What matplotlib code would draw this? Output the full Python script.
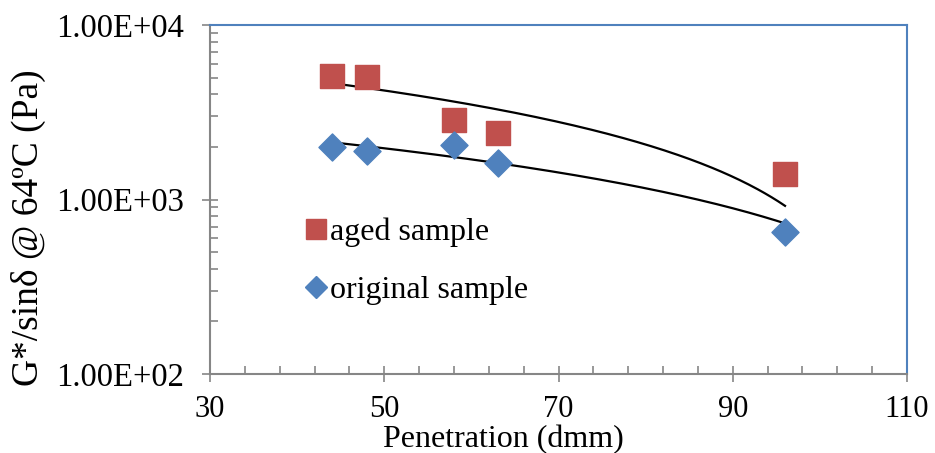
import numpy as np
import matplotlib.pyplot as plt
from matplotlib.ticker import FixedLocator, LogLocator, NullFormatter

plt.rcParams['font.family'] = ['Liberation Serif', 'DejaVu Serif']

# penetration (dmm) and G*/sin(delta) at 64 C (Pa)
penetration = [44, 48, 58, 63, 96]
aged = [5120, 5060, 2860, 2410, 1395]
original = [2010, 1905, 2050, 1625, 655]

fig = plt.figure(figsize=(9.35, 4.53), dpi=100)
ax = fig.add_axes([210 / 935, 1 - 374 / 453, 697 / 935, 349 / 453])

ax.scatter(penetration, aged, marker='s', s=300, color='#c0504d', zorder=3)
ax.scatter(penetration, original, marker='D', s=190, color='#4f81bd', zorder=3)

# linear trendlines (shown on log axis)
xs = np.linspace(min(penetration), max(penetration), 200)
for ys in (aged, original):
    b, a = np.polyfit(penetration, ys, 1)
    ax.plot(xs, a + b * xs, color='black', lw=1.6, zorder=2)

ax.set_yscale('log')
ax.set_xlim(30, 110)
ax.set_ylim(100, 10000)
ax.set_xticks([30, 50, 70, 90, 110])
ax.xaxis.set_minor_locator(FixedLocator(np.arange(30, 111, 4)))
ax.set_yticks([100, 1000, 10000])
ax.set_yticklabels(['1.00E+02', '1.00E+03', '1.00E+04'])
ax.yaxis.set_minor_locator(LogLocator(base=10, subs=np.arange(2, 10)))
ax.yaxis.set_minor_formatter(NullFormatter())

ax.tick_params(which='major', direction='inout', length=12, width=1.2,
               color='#868686', labelsize=22)
ax.tick_params(which='minor', direction='in', length=6, width=1.2, color='#868686')
ax.tick_params(axis='x', which='major', pad=9)
ax.tick_params(axis='y', which='major', pad=13, labelsize=23.5)

for side in ('left', 'bottom'):
    ax.spines[side].set_color('#868686')
    ax.spines[side].set_linewidth(1.5)
for side in ('top', 'right'):
    ax.spines[side].set_color('#4f81bd')
    ax.spines[side].set_linewidth(1.5)

# legend drawn inside the plot without frame
ax.legend(handles=[
    plt.Line2D([], [], marker='s', ls='none', ms=14, color='#c0504d', label='aged sample'),
    plt.Line2D([], [], marker='D', ls='none', ms=11, color='#4f81bd', label='original sample')],
    loc='upper left', bbox_to_anchor=((300 - 210) / 697, 0.448), frameon=False,
    fontsize=23, handlelength=1, handletextpad=-0.05, labelspacing=0.9,
    borderaxespad=0, borderpad=0)

fig.text(28 / 935, 1 - 228 / 453, 'G*/sinδ @ 64ºC (Pa)', rotation=90,
         ha='center', va='center', fontsize=27)
fig.text(503 / 935, 1 - 440 / 453, 'Penetration (dmm)', ha='center', va='center',
         fontsize=23)

fig.savefig('out.png', dpi=100)
